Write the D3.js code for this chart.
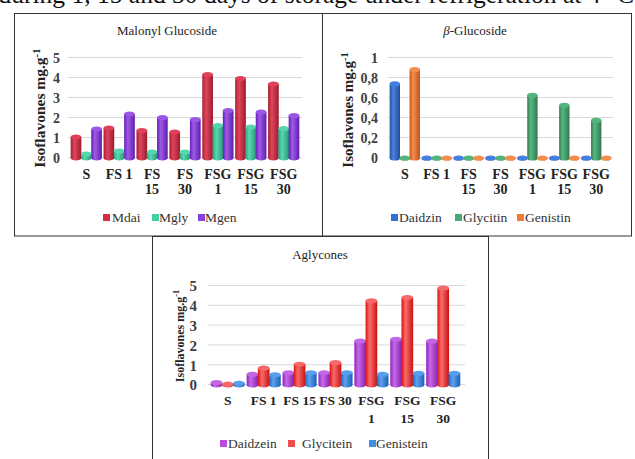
<!DOCTYPE html>
<html><head><meta charset="utf-8">
<script src="https://cdn.jsdelivr.net/npm/d3@7"></script>
<style>body{margin:0;background:#fff}svg{display:block;font-family:"Liberation Serif","Times New Roman",serif}svg text{font-family:"Liberation Serif","Times New Roman",serif}</style>
</head><body>
<script>
const categories = ["S","FS 1","FS 15","FS 30","FSG 1","FSG 15","FSG 30"];
const catLines = [["S"],["FS 1"],["FS","15"],["FS","30"],["FSG","1"],["FSG","15"],["FSG","30"]];
const catLines3 = [["S"],["FS 1"],["FS 15"],["FS 30"],["FSG","1"],["FSG","15"],["FSG","30"]];

const malonylSeries = ["Mdai","Mgly","Mgen"];
const Mdai = [1.13,1.58,1.45,1.38,4.25,4.05,3.78];
const Mgly = [0.28,0.42,0.38,0.37,1.7,1.63,1.55];
const Mgen = [1.53,2.28,2.1,2.0,2.45,2.37,2.2];
const malonylColors = ["#dc2a45","#3fd1a2","#8b3ee0"];
const malonylTicks = [0,1,2,3,4,5];

const glucSeries = ["Daidzin","Glycitin","Genistin"];
const Daidzin = [0.757,0,0,0,0,0,0];
const Glycitin = [0,0,0,0,0.643,0.543,0.393];
const Genistin = [0.9,0,0,0,0,0,0];
const glucColors = ["#2f6fd8","#48a870","#f07a34"];
const glucTicks = [0,0.2,0.4,0.6,0.8,1];
const glucTickLabels = ["0","0,2","0,4","0,6","0,8","1"];

const aglySeries = ["Daidzein","Glycitein","Genistein"];
const Daidzein = [0.2,0.62,0.7,0.7,2.3,2.39,2.3];
const Glycitein = [0.12,0.93,1.13,1.21,4.33,4.5,4.97];
const Genistein = [0.17,0.59,0.7,0.7,0.62,0.67,0.67];
const aglyColors = ["#b84ce0","#f24b4b","#3f8ee8"];
const aglyTicks = [0,1,2,3,4,5];

const FONT = "'Liberation Serif','Times New Roman',serif";
const svg = d3.select("body").append("svg").attr("width",635).attr("height",459).style("font-family",FONT);
const defs = svg.append("defs");

function shade(c,k){const h=d3.hsl(c);h.l=Math.max(0,Math.min(1,h.l*k));return h.formatHex();}
let gid=0;
function gradFor(color){
  const id="g"+(gid++);
  const lg=defs.append("linearGradient").attr("id",id).attr("x1","0").attr("x2","1").attr("y1","0").attr("y2","0");
  lg.append("stop").attr("offset","0%").attr("stop-color",shade(color,0.75));
  lg.append("stop").attr("offset","35%").attr("stop-color",shade(color,1.12));
  lg.append("stop").attr("offset","100%").attr("stop-color",shade(color,0.7));
  return id;
}

// top caption (cut by the page edge)
svg.append("text").attr("x",634).attr("y",3).attr("text-anchor","end").attr("font-size",25.5).attr("fill","#111")
  .style("font-family",FONT)
  .text("during 1, 15 and 30 days of storage under refrigeration at 4 °C");

// frames
const fr = svg.append("g").attr("fill","none").attr("stroke","#333").attr("stroke-width",1);
fr.append("rect").attr("x",14.5).attr("y",13.5).attr("width",617).attr("height",222.5);
fr.append("line").attr("x1",322.5).attr("x2",322.5).attr("y1",13.5).attr("y2",236);
svg.append("rect").attr("x",152.5).attr("y",236.5).attr("width",336).attr("height",230).attr("fill","#fff").attr("stroke","#333");

function txt(g){return g.append("text").style("font-family",FONT);}

function panel(o){
  const g = svg.append("g");
  const x0 = d3.scaleBand().domain(categories).range(o.xr).paddingInner(0.05).paddingOuter(0.02);
  const x1 = d3.scaleBand().domain(o.series).range([0,x0.bandwidth()]).paddingInner(-0.04);
  const y = d3.scaleLinear().domain(o.ydom).range(o.yr);
  // gridlines
  g.append("g").selectAll("line").data(o.ticks).join("line")
    .attr("x1",o.gx[0]).attr("x2",o.gx[1]).attr("y1",d=>y(d)+0.5).attr("y2",d=>y(d)+0.5)
    .attr("stroke","#d9d9d9").attr("stroke-width",1);
  // axis tick labels via d3 axis
  const ax = d3.axisLeft(y).tickValues(o.ticks).tickSize(0).tickPadding(0).tickFormat((d,i)=>o.tickLabels[i]);
  const axg = g.append("g").attr("transform",`translate(${o.tx},1)`).call(ax).attr("font-family",null);
  axg.select(".domain").remove();
  axg.selectAll("text").style("font-family",FONT).attr("font-weight","bold")
    .attr("font-size",o.tfs).attr("fill","#404040");
  // y label
  const yl = txt(g).attr("transform",`translate(${o.ylx},${o.yly}) rotate(-90)`)
    .attr("text-anchor","middle").attr("font-weight","bold").attr("font-size",o.ylfs).attr("fill","#222");
  yl.append("tspan").text("Isoflavones mg.g");
  yl.append("tspan").attr("dy",-5).attr("font-size",o.ylfs*0.7).text("-1");
  // title
  const t = txt(g).attr("x",o.title[1]).attr("y",o.title[2]).attr("text-anchor","middle").attr("font-size",13).attr("fill","#222");
  if(o.title[0].startsWith("β")){t.append("tspan").attr("font-style","italic").text("β");t.append("tspan").text(o.title[0].slice(1));}
  else t.text(o.title[0]);
  // bars
  const ry = 2.6;
  o.series.forEach((s,si)=>{
    const gi = gradFor(o.colors[si]);
    o.values[si].forEach((v,ci)=>{
      const w = x1.bandwidth();
      const cx = x0(categories[ci]) + x1(s) + w/2;
      const yb = y(0)+1, yt = Math.min(y(v)+ry, yb);
      g.append("path").attr("d",`M${cx-w/2},${yt}L${cx-w/2},${yb}A${w/2},${ry} 0 0 0 ${cx+w/2},${yb}L${cx+w/2},${yt}Z`)
        .attr("fill",`url(#${gi})`);
      g.append("ellipse").attr("cx",cx).attr("cy",yt).attr("rx",w/2).attr("ry",ry).attr("fill",shade(o.colors[si],1.1));
    });
  });
  // x labels
  o.lines.forEach((ls,ci)=>{
    const cx = x0(categories[ci]) + x0.bandwidth()/2;
    ls.forEach((l,li)=>{
      txt(g).attr("x",cx).attr("y",o.xly + li*o.xlh).attr("text-anchor","middle")
        .attr("font-weight","bold").attr("font-size",o.xlfs).attr("fill","#222").text(l);
    });
  });
  // legend
  o.series.forEach((s,si)=>{
    const [sx,tx] = o.leg[si];
    g.append("rect").attr("x",sx).attr("y",o.legy-8).attr("width",7).attr("height",7).attr("fill",o.colors[si]);
    txt(g).attr("x",tx).attr("y",o.legy).attr("font-size",13.5).attr("fill","#333").text(s);
  });
}

panel({xr:[70,300], series:malonylSeries, values:[Mdai,Mgly,Mgen], colors:malonylColors,
  ydom:[0,5], yr:[157,57], ticks:malonylTicks, tickLabels:malonylTicks.map(String), gx:[68,302], tx:60, tfs:14,
  ylx:45, yly:108, ylfs:15.5, title:["Malonyl Glucoside",167,35], lines:catLines, xly:179, xlh:15, xlfs:14,
  leg:[[103,112],[152,159],[198,205]], legy:222});

panel({xr:[389,612], series:glucSeries, values:[Daidzin,Glycitin,Genistin], colors:glucColors,
  ydom:[0,1], yr:[157,57], ticks:glucTicks, tickLabels:glucTickLabels, gx:[388,613], tx:378, tfs:14,
  ylx:353, yly:110, ylfs:15, title:["β-Glucoside",475,35], lines:catLines, xly:179, xlh:15, xlfs:14,
  leg:[[391,399],[455,463],[517,525]], legy:222});

panel({xr:[210,461], series:aglySeries, values:[Daidzein,Glycitein,Genistein], colors:aglyColors,
  ydom:[0,5], yr:[384,285], ticks:aglyTicks, tickLabels:aglyTicks.map(String), gx:[208,465], tx:197, tfs:15,
  ylx:184, yly:336, ylfs:12, title:["Aglycones",320,259], lines:catLines3, xly:405, xlh:18, xlfs:13.5,
  leg:[[220,228],[288,302],[369,376]], legy:448});
</script>
</body></html>
